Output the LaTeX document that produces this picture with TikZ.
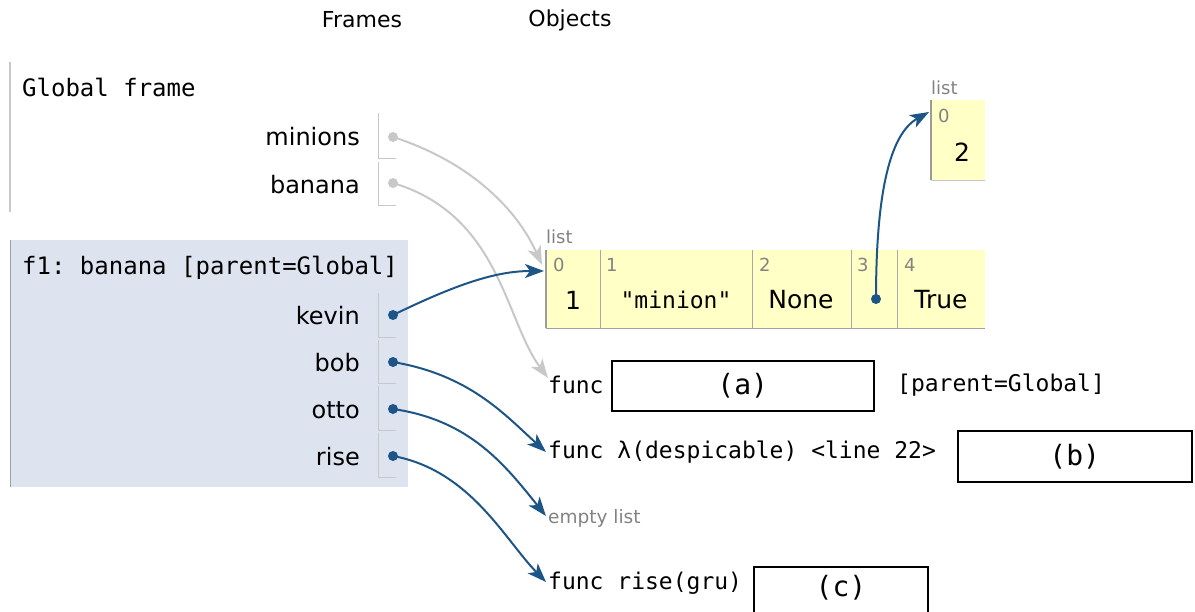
\documentclass[tikz,border=0pt]{standalone}
\usepackage{fontspec}
\setmainfont{DejaVu Sans}
\setmonofont{DejaVu Sans Mono}
\usetikzlibrary{arrows.meta}
\definecolor{ptblue}{RGB}{30,85,135}
\definecolor{ptgray}{RGB}{200,200,200}
\definecolor{framefill}{RGB}{221,228,240}
\definecolor{listfill}{RGB}{255,255,198}
\definecolor{idxgray}{RGB}{130,130,130}
\tikzset{
  nm/.style={anchor=east,inner sep=0pt,font=\fontsize{24}{28}\selectfont},
  mono/.style={inner sep=0pt,font=\ttfamily\fontsize{23}{27}\selectfont},
  small/.style={inner sep=0pt,text=idxgray,font=\fontsize{18}{22}\selectfont},
  idx/.style={anchor=north west,inner sep=0pt,text=idxgray,font=\fontsize{18}{21}\selectfont},
  val/.style={inner sep=0pt,font=\fontsize{25}{29}\selectfont},
  bind/.style={draw=ptgray,line width=1pt},
  dotg/.style={circle,fill=ptgray,inner sep=0pt,minimum size=10pt},
  dotb/.style={circle,fill=ptblue,inner sep=0pt,minimum size=10pt},
  refg/.style={draw=ptgray,line width=2pt,-{Stealth[length=19pt,width=14pt,inset=5pt]}},
  refb/.style={draw=ptblue,line width=2pt,-{Stealth[length=19pt,width=14pt,inset=5pt]}},
  fbox/.style={draw=black,line width=1.5pt,inner sep=0pt,font=\ttfamily\fontsize{28}{32}\selectfont},
}
\begin{document}
\begin{tikzpicture}[x=1pt,y=-1pt]
\useasboundingbox (0,0) rectangle (1195,611);
% headers
\node[inner sep=0pt,font=\fontsize{22}{26}\selectfont] (hf) at (362,20) {Frames};
\node[inner sep=0pt,font=\fontsize{22}{26}\selectfont] (ho) at (570,20) {Objects};
% global frame
\draw[ptgray,line width=1.5pt] (10,62) -- (10,212);
\node[mono,anchor=west,font=\ttfamily\fontsize{24}{28}\selectfont] (gf) at (22,87) {Global frame};
\node[nm] (minions) at (360,137) {minions};
\node[nm] (banana) at (360,185) {banana};
\draw[bind] (378,113) -- (378,158) -- (396,158);
\draw[bind] (378,162) -- (378,205) -- (396,205);
\node[dotg] (dmin) at (393,137) {};
\node[dotg] (dban) at (393,183) {};
% f1 frame
\fill[framefill] (10,240) rectangle (408,487);
\draw[ptgray!80!black,line width=1pt] (10,240) -- (10,487);
\node[mono,anchor=west,font=\ttfamily\fontsize{24}{28}\selectfont] (f1) at (22,268) {f1: banana [parent=Global]};
\node[nm] (kevin) at (360,316) {kevin};
\node[nm] (bob) at (360,363) {bob};
\node[nm] (otto) at (360,410) {otto};
\node[nm] (rise) at (360,457) {rise};
\foreach \t/\b in {293/337,340/383,386/430,433/477}{
  \draw[bind] (378,\t) -- (378,\b) -- (396,\b);
}
% list (small)
\node[small,anchor=south west] (ls) at (931,95) {list};
\node[fill=listfill,minimum width=54pt,minimum height=80pt,inner sep=0pt,anchor=north west] (L2) at (931,100) {};
\draw[idxgray!80,line width=1.2pt] (931,100) -- (931,180);
\draw[ptgray,line width=1pt] (931,180) -- (985,180);
\node[idx] (i20) at (938,109) {0};
\node[val] (v20) at (962,152) {2};
% main list
\node[small,anchor=south west] (lm) at (546,244) {list};
\node[fill=listfill,minimum width=439pt,minimum height=78pt,inner sep=0pt,anchor=north west] (L) at (546,250) {};
\draw[idxgray!80,line width=1.5pt] (546,250) -- (546,328);
\foreach \x in {600,752,851,897}{ \draw[idxgray!70,line width=1pt] (\x,250) -- (\x,328); }
\draw[ptgray!80!black,line width=1pt] (546,328) -- (985,328);
\node[idx] (i0) at (553,258) {0};
\node[idx] (i1) at (606,258) {1};
\node[idx] (i2) at (759,258) {2};
\node[idx] (i3) at (857,258) {3};
\node[idx] (i4) at (904,258) {4};
\node[val] (v0) at (573,300) {1};
\node[mono] (v1) at (676,300) {"minion"};
\node[val] (v2) at (801,300) {None};
\node[val] (v4) at (941,300) {True};
\node[dotb] (d3) at (876,299) {};
% functions
\node[mono,anchor=west] (fa) at (548,385) {func};
\node[fbox,minimum width=262pt,minimum height=50pt,anchor=north west] (ba) at (611,360) {(a)};
\node[mono,anchor=west] (pa) at (897,385) {[parent=Global]};
\node[mono,anchor=west] (fb) at (548,452) {func λ(despicable) <line 22>};
\node[fbox,minimum width=234pt,minimum height=51pt,anchor=north west] (bb) at (957,430) {(b)};
\node[small,anchor=west,font=\fontsize{18.5}{22}\selectfont] (el) at (548,518) {empty list};
\node[mono,anchor=west] (fc) at (548,583) {func rise(gru)};
\draw[black,line width=1.5pt] (754,620) -- (754,567) -- (928,567) -- (928,620);
\node[inner sep=0pt,font=\ttfamily\fontsize{28}{32}\selectfont] (bc) at (841,588) {(c)};
% anchors for connectors
\coordinate (tL) at (544,271);
\coordinate (tLg) at (542,265);
\coordinate (tL2) at (929,112);
\coordinate (tfa) at (548,378);
\coordinate (tfb) at (546,452);
\coordinate (tel) at (546,516);
\coordinate (tfc) at (546,582);
% gray references
\draw[refg] (dmin.center) .. controls (465,160) and (515,205) .. (tLg);
\draw[refg] (dban.center) .. controls (500,215) and (505,320) .. (tfa);
% blue references
\node[dotb] (dk) at (393,315) {};
\node[dotb] (db) at (393,362) {};
\node[dotb] (do) at (393,409) {};
\node[dotb] (dr) at (393,456) {};
\draw[refb] (dk.center) .. controls (455,285) and (495,271) .. (tL);
\draw[refb] (db.center) .. controls (470,375) and (505,415) .. (tfb);
\draw[refb] (do.center) .. controls (470,420) and (505,465) .. (tel);
\draw[refb] (dr.center) .. controls (470,470) and (505,540) .. (tfc);
\draw[refb] (d3.center) .. controls (876,200) and (888,135) .. (tL2);
\end{tikzpicture}
\end{document}
